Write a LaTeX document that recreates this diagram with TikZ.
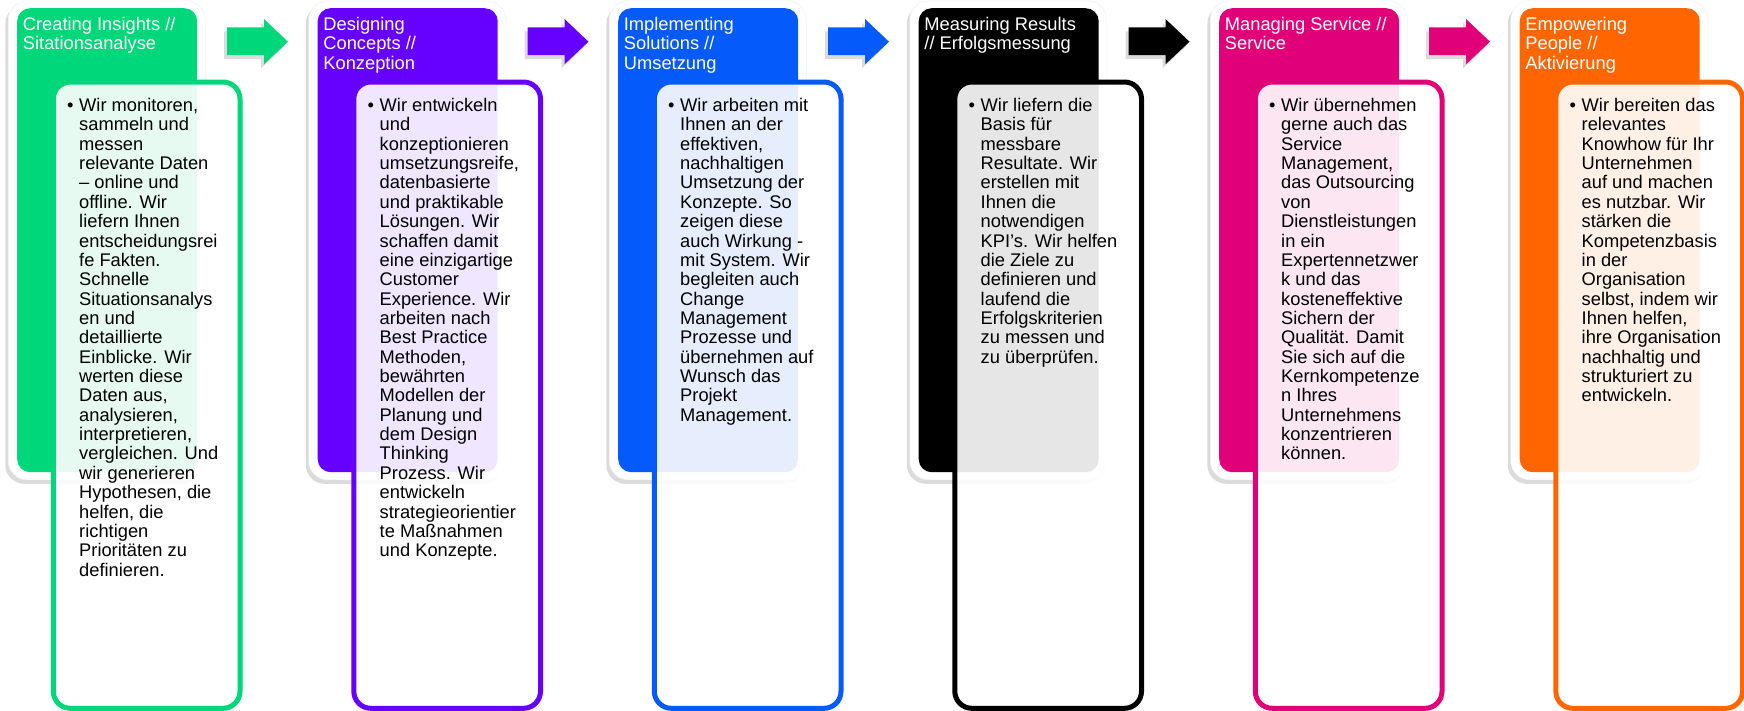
\documentclass[tikz,border=0pt]{standalone}
\usepackage{fontspec}
\setmainfont{Liberation Sans}
\usetikzlibrary{shadows}
\definecolor{cA}{RGB}{0,214,122}
\definecolor{cB}{RGB}{102,0,255}
\definecolor{cC}{RGB}{5,90,250}
\definecolor{cD}{RGB}{0,0,0}
\definecolor{cE}{RGB}{224,0,120}
\definecolor{cF}{RGB}{255,102,0}
\tikzset{
  softshadow/.style={drop shadow={shadow xshift=-3pt,shadow yshift=-4pt,opacity=0.14,fill=black}},
  framebox/.style={rectangle,rounded corners=19pt,fill=white,draw=black!5,line width=0.6pt,
    minimum width=197pt,minimum height=479pt,anchor=north west,inner sep=0,softshadow},
  headbox/.style={rectangle,rounded corners=13pt,fill=#1,
    minimum width=180pt,minimum height=464pt,anchor=north west,inner sep=0},
  bodybox/.style={rectangle,rounded corners=17pt,fill=white,fill opacity=0.9,draw=#1,line width=5pt,
    minimum width=186.7pt,minimum height=626.3pt,anchor=north west,inner sep=0},
  headtext/.style={anchor=base west,inner sep=0,text=white},
  bodytext/.style={anchor=base west,inner sep=0,text=black},
  blockarrow/.style={fill=#1,softshadow},
}
\newcommand\txtfont{\fontsize{18.3}{19.36}\selectfont}
\newcommand\stagecol[4]{%
  \begin{scope}[xshift={#1*300.5pt}]
    \node[framebox] (frame#1) at (8,0.5) {};
    \node[headbox=#2] (head#1) at (17,8) {};
    \node[bodybox=#2] (body#1) at (50.8,79.5) {};
    \node[headtext] (htxt#1) at (22.7,30.5) {\parbox[t]{250pt}{\txtfont #3}};
    \node[bodytext] (btxt#1) at (79,111.5) {\parbox[t]{250pt}{\txtfont\leavevmode\llap{\textbullet\hspace{5.6pt}}#4}};
  \end{scope}}
\newcommand\stagearrow[2]{%
  \begin{scope}[xshift={#1*300.5pt}]
    \fill[blockarrow=#2] (227,27.3) -- (264,27.3) -- (264,19) -- (288,41.7) -- (264,64.3) -- (264,55) -- (227,55) -- cycle;
  \end{scope}}
\begin{document}
\begin{tikzpicture}[x=1pt,y=-1pt]
\useasboundingbox (0,0) rectangle (1744,710);
\stagearrow{0}{cA}
\stagearrow{1}{cB}
\stagearrow{2}{cC}
\stagearrow{3}{cD}
\stagearrow{4}{cE}
\stagecol{0}{cA}{Creating Insights //\\Sitationsanalyse}{Wir monitoren,\\sammeln und\\messen\\relevante Daten\\– online und\\offline. Wir\\liefern Ihnen\\entscheidungsrei\\fe Fakten.\\Schnelle\\Situationsanalys\\en und\\detaillierte\\Einblicke. Wir\\werten diese\\Daten aus,\\analysieren,\\interpretieren,\\vergleichen. Und\\wir generieren\\Hypothesen, die\\helfen, die\\richtigen\\Prioritäten zu\\definieren.}
\stagecol{1}{cB}{Designing\\Concepts //\\Konzeption}{Wir entwickeln\\und\\konzeptionieren\\umsetzungsreife,\\datenbasierte\\und praktikable\\Lösungen. Wir\\schaffen damit\\eine einzigartige\\Customer\\Experience. Wir\\arbeiten nach\\Best Practice\\Methoden,\\bewährten\\Modellen der\\Planung und\\dem Design\\Thinking\\Prozess. Wir\\entwickeln\\strategieorientier\\te Maßnahmen\\und Konzepte.}
\stagecol{2}{cC}{Implementing\\Solutions //\\Umsetzung}{Wir arbeiten mit\\Ihnen an der\\effektiven,\\nachhaltigen\\Umsetzung der\\Konzepte. So\\zeigen diese\\auch Wirkung -\\mit System. Wir\\begleiten auch\\Change\\Management\\Prozesse und\\übernehmen auf\\Wunsch das\\Projekt\\Management.}
\stagecol{3}{cD}{Measuring Results\\// Erfolgsmessung}{Wir liefern die\\Basis für\\messbare\\Resultate. Wir\\erstellen mit\\Ihnen die\\notwendigen\\KPI’s. Wir helfen\\die Ziele zu\\definieren und\\laufend die\\Erfolgskriterien\\zu messen und\\zu überprüfen.}
\stagecol{4}{cE}{Managing Service //\\Service}{Wir übernehmen\\gerne auch das\\Service\\Management,\\das Outsourcing\\von\\Dienstleistungen\\in ein\\Expertennetzwer\\k und das\\kosteneffektive\\Sichern der\\Qualität. Damit\\Sie sich auf die\\Kernkompetenze\\n Ihres\\Unternehmens\\konzentrieren\\können.}
\stagecol{5}{cF}{Empowering\\People //\\Aktivierung}{Wir bereiten das\\relevantes\\Knowhow für Ihr\\Unternehmen\\auf und machen\\es nutzbar. Wir\\stärken die\\Kompetenzbasis\\in der\\Organisation\\selbst, indem wir\\Ihnen helfen,\\ihre Organisation\\nachhaltig und\\strukturiert zu\\entwickeln.}
\end{tikzpicture}
\end{document}
